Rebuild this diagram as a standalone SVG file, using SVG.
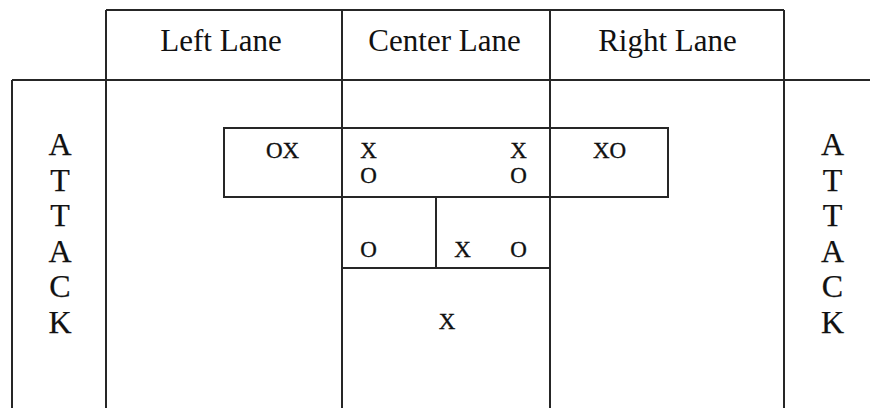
<svg xmlns="http://www.w3.org/2000/svg" width="870" height="408" viewBox="0 0 870 408">
<style>
.ln{stroke:#262626;stroke-width:2;fill:none}
text{font-family:"Liberation Serif","Times New Roman",serif;fill:#111;text-anchor:middle}
.hd{font-size:31px}
.pl{font-size:23px;stroke:#111;stroke-width:0.35}
.at{font-size:32px;stroke:#111;stroke-width:0.25}
</style>
<rect width="870" height="408" fill="#fff"/>
<g id="grid">
<line class="ln" x1="106" y1="10" x2="784" y2="10"/>
<line class="ln" x1="12" y1="80" x2="870" y2="80"/>
<line class="ln" x1="12" y1="80" x2="12" y2="408"/>
<line class="ln" x1="106" y1="10" x2="106" y2="408"/>
<line class="ln" x1="342" y1="10" x2="342" y2="408"/>
<line class="ln" x1="550" y1="10" x2="550" y2="408"/>
<line class="ln" x1="784" y1="10" x2="784" y2="408"/>
</g>
<g id="headers">
<text class="hd" x="221" y="51">Left Lane</text>
<text class="hd" x="444.5" y="51">Center Lane</text>
<text class="hd" x="667.5" y="51">Right Lane</text>
</g>
<g id="front-box">
<rect class="ln" x="224" y="128" width="444" height="69"/>
<text class="pl" x="282.5" y="158">OX</text>
<text class="pl" x="368.5" y="158">X</text>
<text class="pl" x="368.5" y="183">O</text>
<text class="pl" x="518.5" y="158">X</text>
<text class="pl" x="518.5" y="183">O</text>
<text class="pl" x="609.5" y="158">XO</text>
</g>
<g id="middle-box">
<line class="ln" x1="436" y1="197" x2="436" y2="268"/>
<line class="ln" x1="342" y1="268" x2="550" y2="268"/>
<text class="pl" x="368.5" y="257">O</text>
<text class="pl" x="462.5" y="257">X</text>
<text class="pl" x="518.5" y="257">O</text>
</g>
<g id="back-box">
<text class="pl" x="447" y="329">X</text>
</g>
<g id="attack-left">
<text class="at" x="60" y="155">A</text>
<text class="at" x="60" y="190.6">T</text>
<text class="at" x="60" y="226.2">T</text>
<text class="at" x="60" y="261.8">A</text>
<text class="at" x="60" y="297.4">C</text>
<text class="at" x="60" y="333">K</text>
</g>
<g id="attack-right">
<text class="at" x="832.5" y="155">A</text>
<text class="at" x="832.5" y="190.6">T</text>
<text class="at" x="832.5" y="226.2">T</text>
<text class="at" x="832.5" y="261.8">A</text>
<text class="at" x="832.5" y="297.4">C</text>
<text class="at" x="832.5" y="333">K</text>
</g>
</svg>
